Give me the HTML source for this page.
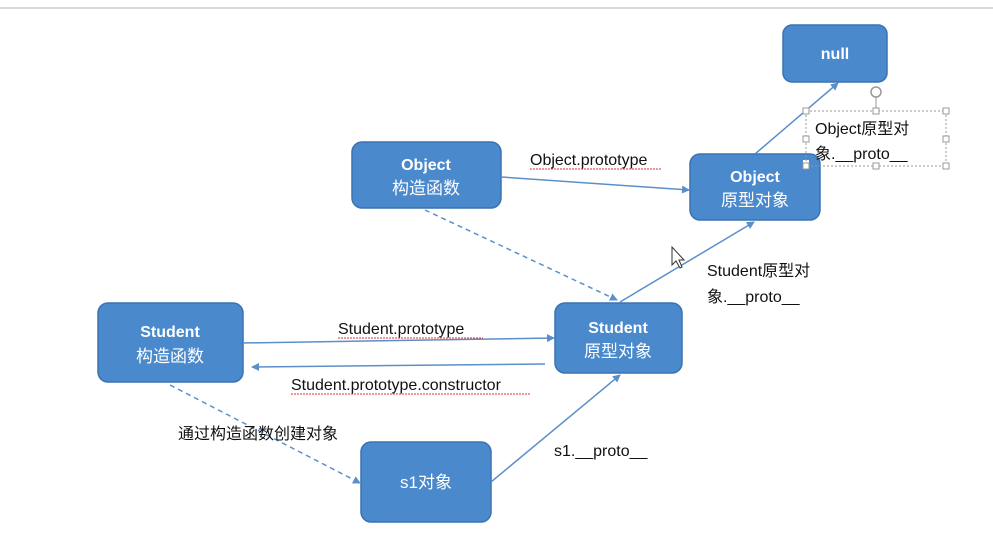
<!DOCTYPE html>
<html><head><meta charset="utf-8"><style>
body{margin:0;background:#fff;}
svg{display:block;}
text{font-family:"Liberation Sans","Noto Sans CJK SC",sans-serif;}
</style></head><body>
<svg width="993" height="535" viewBox="0 0 993 535">
<defs>
<marker id="a" markerWidth="8" markerHeight="8" refX="7" refY="4" orient="auto" markerUnits="userSpaceOnUse">
<path d="M0,0 L8,4 L0,8 z" fill="#5b8fc9"/></marker>
</defs>
<line x1="0" y1="8" x2="993" y2="8" stroke="#d8d8d8" stroke-width="2"/>
<g fill="#4a89cc" stroke="#3a72b2" stroke-width="1.5">
<rect x="783" y="25" width="104" height="57" rx="9"/>
<rect x="352" y="142" width="149" height="66" rx="10"/>
<rect x="690" y="154" width="130" height="66" rx="10"/>
<rect x="98" y="303" width="145" height="79" rx="10"/>
<rect x="555" y="303" width="127" height="70" rx="10"/>
<rect x="361" y="442" width="130" height="80" rx="10"/>
</g>
<rect x="803" y="160" width="6" height="6" fill="#fff"/>
<g fill="#fff" font-size="17" text-anchor="middle">
<text x="835" y="59" font-weight="bold" font-size="16">null</text>
<text x="426" y="170" font-weight="bold" font-size="16">Object</text><text x="426" y="194">构造函数</text>
<text x="755" y="182" font-weight="bold" font-size="16">Object</text><text x="755" y="206">原型对象</text>
<text x="170" y="337" font-weight="bold" font-size="16">Student</text><text x="170" y="362">构造函数</text>
<text x="618" y="333" font-weight="bold" font-size="16">Student</text><text x="618" y="357">原型对象</text>
<text x="426" y="488">s1对象</text>
</g>
<g stroke="#5b8fc9" stroke-width="1.5" fill="none" marker-end="url(#a)">
<line x1="501" y1="177" x2="689" y2="190"/>
<line x1="425" y1="210" x2="617" y2="300" stroke-dasharray="5,4"/>
<line x1="620" y1="302" x2="754" y2="222"/>
<line x1="755" y1="154" x2="838" y2="83"/>
<line x1="243" y1="343" x2="554" y2="338"/>
<line x1="545" y1="364" x2="252" y2="367"/>
<line x1="170" y1="385" x2="360" y2="483" stroke-dasharray="5,4"/>
<line x1="491" y1="482" x2="620" y2="375"/>
</g>
<g fill="#111" font-size="16">
<text x="530" y="165">Object.prototype</text>
<text x="707" y="276">Student原型对</text>
<text x="707" y="302">象.__proto__</text>
<text x="338" y="334">Student.prototype</text>
<text x="291" y="390">Student.prototype.constructor</text>
<text x="178" y="439">通过构造函数创建对象</text>
<text x="554" y="456">s1.__proto__</text>
<text x="815" y="134">Object原型对</text>
<text x="815" y="159">象.__proto__</text>
</g>
<g stroke="#e03030" stroke-width="1" stroke-dasharray="2,1" fill="none">
<line x1="530" y1="169" x2="662" y2="169"/>
<line x1="338" y1="338" x2="483" y2="338"/>
<line x1="291" y1="394" x2="530" y2="394"/>
</g>
<rect x="806" y="111" width="140" height="55" fill="none" stroke="#999" stroke-dasharray="2,2"/>
<g fill="#fff" stroke="#999">
<rect x="803" y="108" width="6" height="6"/><rect x="873" y="108" width="6" height="6"/><rect x="943" y="108" width="6" height="6"/>
<rect x="803" y="136" width="6" height="6"/><rect x="943" y="136" width="6" height="6"/>
<rect x="803" y="163" width="6" height="6"/><rect x="873" y="163" width="6" height="6"/><rect x="943" y="163" width="6" height="6"/>
</g>
<line x1="876" y1="97" x2="876" y2="108" stroke="#999"/>
<circle cx="876" cy="92" r="5" fill="none" stroke="#999" stroke-width="1.5"/>
<path d="M672,247 L672,265 L676,261 L680,268 L682,267 L679,260 L684,260 z" fill="#fff" stroke="#333"/>
</svg>
</body></html>
